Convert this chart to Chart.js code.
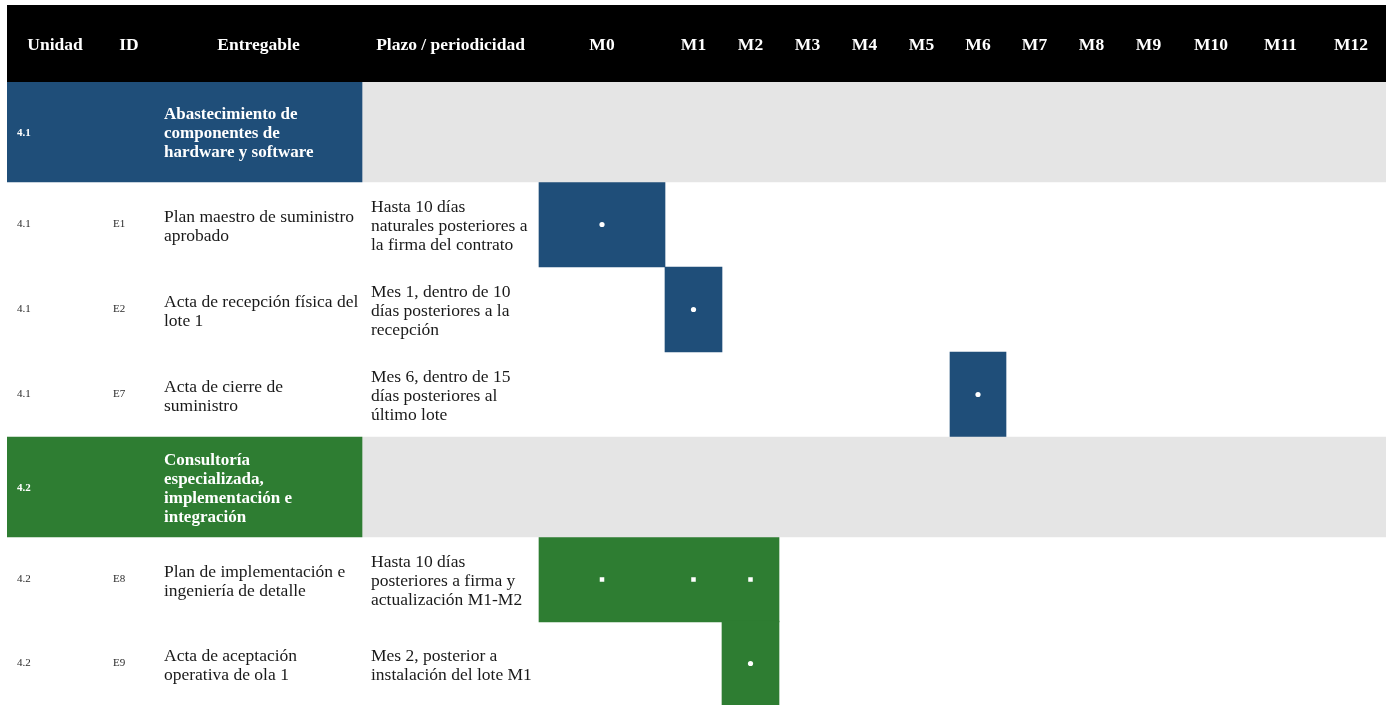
<!DOCTYPE html>
<html>
<head>
<meta charset="utf-8">
<script src="https://cdn.jsdelivr.net/npm/chart.js@4.4.1/dist/chart.umd.min.js"></script>
<style>
  html, body { margin: 0; padding: 0; background: #ffffff; overflow: hidden; }
  #wrap { width: 1387px; height: 705px; position: relative; }
</style>
</head>
<body>
<div id="wrap"><canvas id="chart"></canvas></div>
<script>
// ---------------- DATA ----------------
const tableColumns = ['Unidad', 'ID', 'Entregable', 'Plazo / periodicidad',
  'M0', 'M1', 'M2', 'M3', 'M4', 'M5', 'M6', 'M7', 'M8', 'M9', 'M10', 'M11', 'M12'];

const rowKeys   = ['4.1', 'E1', 'E2', 'E7', '4.2', 'E8', 'E9'];
const rowUnit   = ['4.1', '4.1', '4.1', '4.1', '4.2', '4.2', '4.2'];
const rowId     = ['', 'E1', 'E2', 'E7', '', 'E8', 'E9'];
const rowIsGroup = [true, false, false, false, true, false, false];

const rowTitle = [
  'Abastecimiento de\ncomponentes de\nhardware y software',
  'Plan maestro de suministro\naprobado',
  'Acta de recepción física del\nlote 1',
  'Acta de cierre de\nsuministro',
  'Consultoría\nespecializada,\nimplementación e\nintegración',
  'Plan de implementación e\ningeniería de detalle',
  'Acta de aceptación\noperativa de ola 1'
];

const rowDeadline = [
  '',
  'Hasta 10 días\nnaturales posteriores a\nla firma del contrato',
  'Mes 1, dentro de 10\ndías posteriores a la\nrecepción',
  'Mes 6, dentro de 15\ndías posteriores al\núltimo lote',
  '',
  'Hasta 10 días\nposteriores a firma y\nactualización M1-M2',
  'Mes 2, posterior a\ninstalación del lote M1'
];

const activityFrom = [null, 'M0', 'M1', 'M6', null, 'M0', 'M2'];
const activityTo   = [null, 'M0', 'M1', 'M6', null, 'M2', 'M2'];

const milestoneMonths = [[], ['M0'], ['M1'], ['M6'], [], ['M0', 'M1', 'M2'], ['M2']];
const milestoneKind   = ['', 'hito', 'hito', 'hito', '', 'periodica', 'hito'];

// ---------------- LAYOUT / STYLE ----------------
const colWidths  = [96, 52, 207, 177, 126, 57, 57, 57, 57, 57, 56, 57, 57, 57, 68, 71, 70];
const rowHeights = [100, 85, 85, 85, 100, 85, 83];
const unitColor  = { '4.1': '#1F4E79', '4.2': '#2E7D32' };
const groupFill  = '#E5E5E5';
const FONT = "'Liberation Serif', 'Times New Roman', serif";

// ---------------- CUSTOM SCALES (uneven column widths / row heights) ----------------
function piecewise(weights, start, length, v) {
  const total = weights.reduce((a, b) => a + b, 0);
  const f = length / total;
  const i = Math.max(0, Math.min(weights.length - 1, Math.floor(v)));
  let acc = 0;
  for (let k = 0; k < i; k++) acc += weights[k];
  return start + (acc + (v - i) * weights[i]) * f;
}
function inversePiecewise(weights, start, length, p) {
  const total = weights.reduce((a, b) => a + b, 0);
  const f = length / total;
  let acc = 0;
  for (let k = 0; k < weights.length; k++) {
    const w = weights[k] * f;
    if (p <= start + acc + w || k === weights.length - 1) return k + (p - start - acc) / w;
    acc += w;
  }
  return 0;
}

class TableXScale extends Chart.LinearScale {
  static id = 'tablex';
  getPixelForValue(value) {
    if (value === null || isNaN(value)) return NaN;
    return piecewise(colWidths, this.left, this.width, value);
  }
  getValueForPixel(pixel) {
    return inversePiecewise(colWidths, this.left, this.width, pixel);
  }
}

class TableYScale extends Chart.CategoryScale {
  static id = 'tabley';
  getPixelForValue(value) {
    if (typeof value !== 'number') value = this.parse(value);
    if (value === null || isNaN(value)) return NaN;
    return piecewise(rowHeights, this.top, this.height, value + 0.5);
  }
  getPixelForTick(index) {
    const t = this.ticks[index];
    return t ? this.getPixelForValue(t.value) : null;
  }
  getValueForPixel(pixel) {
    return Math.floor(inversePiecewise(rowHeights, this.top, this.height, pixel));
  }
}
Chart.register(TableXScale, TableYScale);

// ---------------- DATASETS built from the arrays ----------------
const col = name => tableColumns.indexOf(name);
const groupLabelData = rowKeys.map((k, i) => rowIsGroup[i] ? [0, col('Plazo / periodicidad')] : null);
const groupFillData  = rowKeys.map((k, i) => rowIsGroup[i] ? [col('Plazo / periodicidad'), tableColumns.length] : null);
const activityData   = rowKeys.map((k, i) => activityFrom[i] ? [col(activityFrom[i]), col(activityTo[i]) + 1] : null);

const circlePts = [], squarePts = [];
milestoneMonths.forEach((months, i) => {
  months.forEach(m => {
    const pt = { x: col(m) + 0.5, y: rowKeys[i] };
    (milestoneKind[i] === 'periodica' ? squarePts : circlePts).push(pt);
  });
});

const unitBg = ctx => unitColor[rowUnit[ctx.dataIndex]];

// ---------------- PLUGINS ----------------
const headerBackground = {
  id: 'headerBackground',
  beforeDraw(chart) {
    const s = chart.scales.x;
    const ctx = chart.ctx;
    ctx.save();
    ctx.fillStyle = '#000000';
    ctx.fillRect(s.left, s.top, s.width, s.height);
    ctx.restore();
  }
};

function drawLines(ctx, text, x, cy, lh) {
  const lines = text.split('\n');
  const y0 = cy - (lines.length - 1) * lh / 2;
  lines.forEach((ln, k) => ctx.fillText(ln, x, y0 + k * lh));
}

const cellText = {
  id: 'cellText',
  afterDatasetsDraw(chart) {
    const xs = chart.scales.x, ys = chart.scales.y;
    const ctx = chart.ctx;
    ctx.save();
    ctx.textAlign = 'left';
    ctx.textBaseline = 'middle';
    rowKeys.forEach((key, i) => {
      const cy = ys.getPixelForValue(i);
      if (rowIsGroup[i]) {
        ctx.fillStyle = '#ffffff';
        ctx.font = 'bold 11px ' + FONT;
        ctx.fillText(rowUnit[i], xs.getPixelForValue(col('Unidad')) + 10, cy + 1);
        ctx.font = 'bold 17px ' + FONT;
        drawLines(ctx, rowTitle[i], xs.getPixelForValue(col('Entregable')) + 9, cy + 2, 19);
      } else {
        ctx.fillStyle = '#2a2a2a';
        ctx.font = '11px ' + FONT;
        ctx.fillText(rowUnit[i], xs.getPixelForValue(col('Unidad')) + 10, cy);
        ctx.fillText(rowId[i], xs.getPixelForValue(col('ID')) + 10, cy);
        ctx.fillStyle = '#1a1a1a';
        ctx.font = '17.5px ' + FONT;
        drawLines(ctx, rowTitle[i], xs.getPixelForValue(col('Entregable')) + 9, cy + 2, 19);
        drawLines(ctx, rowDeadline[i], xs.getPixelForValue(col('Plazo / periodicidad')) + 9, cy + 2, 19);
      }
    });
    ctx.restore();
  }
};

// ---------------- CHART ----------------
new Chart(document.getElementById('chart'), {
  type: 'bar',
  data: {
    labels: rowKeys,
    datasets: [
      { type: 'scatter', label: 'Hito', data: circlePts, indexAxis: 'x',
        pointStyle: 'circle', pointRadius: 2.6, pointBackgroundColor: '#ffffff',
        pointBorderWidth: 0, showLine: false, order: 0 },
      { type: 'scatter', label: 'Entrega periódica', data: squarePts, indexAxis: 'x',
        pointStyle: 'rect', pointRadius: 3.2, pointBackgroundColor: '#ffffff',
        pointBorderWidth: 0, showLine: false, order: 0 },
      { label: 'Unidad', data: groupLabelData, backgroundColor: unitBg,
        stack: 'table', barThickness: 100, borderWidth: 0, order: 1 },
      { label: 'Fila de unidad', data: groupFillData, backgroundColor: groupFill,
        stack: 'table', barThickness: 100, borderWidth: 0, order: 1 },
      { label: 'Actividad', data: activityData, backgroundColor: unitBg,
        stack: 'table', barThickness: 85, borderWidth: 0, order: 1 }
    ]
  },
  options: {
    indexAxis: 'y',
    responsive: true,
    maintainAspectRatio: false,
    animation: false,
    events: [],
    layout: { autoPadding: false, padding: { top: 5, left: 7, right: 1, bottom: 0 } },
    plugins: { legend: { display: false }, tooltip: { enabled: false } },
    scales: {
      x: {
        type: 'tablex',
        position: 'top',
        min: 0,
        max: tableColumns.length,
        stacked: false,
        grid: { display: false },
        border: { display: false },
        afterBuildTicks: scale => {
          scale.ticks = tableColumns.map((c, i) => ({ value: i + 0.5 }));
        },
        afterFit: scale => {
          scale.height = 77;
          scale.paddingLeft = 0;
          scale.paddingRight = 0;
          scale.paddingTop = 0;
          scale.paddingBottom = 0;
        },
        ticks: {
          autoSkip: false,
          maxRotation: 0,
          minRotation: 0,
          padding: 18,
          color: '#ffffff',
          font: { family: FONT, size: 17.5, weight: 'bold' },
          callback: (value, index) => tableColumns[index]
        }
      },
      y: {
        type: 'tabley',
        display: false,
        grid: { display: false },
        afterFit: scale => {
          scale.width = 0;
          scale.paddingLeft = 0;
          scale.paddingRight = 0;
          scale.paddingTop = 0;
          scale.paddingBottom = 0;
        }
      }
    }
  },
  plugins: [headerBackground, cellText]
});
</script>
</body>
</html>
